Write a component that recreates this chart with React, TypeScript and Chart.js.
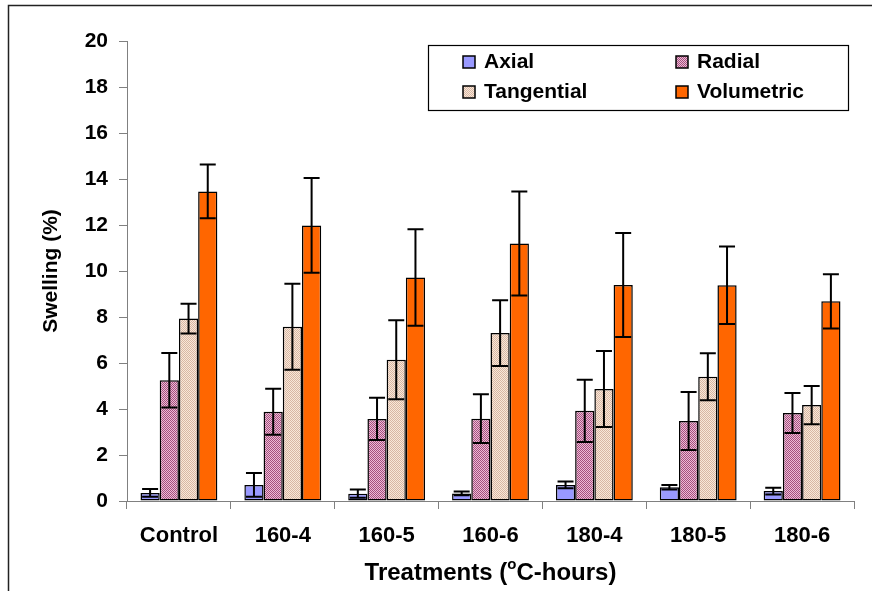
import { useEffect, useRef } from 'react';
import { Chart, registerables } from 'chart.js';

Chart.register(...registerables);

const categories = ['Control', '160-4', '160-5', '160-6', '180-4', '180-5', '180-6'];
const seriesLabels = ['Axial', 'Radial', 'Tangential', 'Volumetric'];
const axial = [0.35, 0.7, 0.32, 0.33, 0.7, 0.6, 0.43];
const axialErr = [0.17, 0.52, 0.18, 0.08, 0.15, 0.1, 0.15];
const radial = [5.25, 3.88, 3.57, 3.58, 3.92, 3.48, 3.83];
const radialErr = [1.18, 1.0, 0.92, 1.06, 1.35, 1.26, 0.87];
const tangential = [7.93, 7.58, 6.14, 7.3, 4.87, 5.4, 4.17];
const tangentialErr = [0.65, 1.87, 1.72, 1.43, 1.65, 1.02, 0.83];
const volumetric = [13.46, 11.98, 9.72, 11.2, 9.39, 9.38, 8.68];
const volumetricErr = [1.17, 2.06, 2.1, 2.26, 2.26, 1.68, 1.18];
const yMin = 0;
const yMax = 20;
const yStep = 2;

const FONT = "'Liberation Sans', Arial, sans-serif";

function makePattern(a: string, b: string): CanvasPattern | string {
  const c = document.createElement('canvas');
  c.width = 2;
  c.height = 2;
  const g = c.getContext('2d');
  if (!g) return a;
  g.fillStyle = b;
  g.fillRect(0, 0, 2, 2);
  g.fillStyle = a;
  g.fillRect(0, 0, 1, 1);
  g.fillRect(1, 1, 1, 1);
  const p = g.createPattern(c, 'repeat');
  return p || a;
}

export default function App() {
  const ref = useRef<HTMLCanvasElement | null>(null);

  useEffect(() => {
    document.body.style.margin = '0';
    const canvas = ref.current;
    if (!canvas) return;

    const radialFill = makePattern('#A4507E', '#EDBAD5');
    const tangFill = makePattern('#D8B6A4', '#F8E8D8');
    const fills: any[] = ['#9999FF', radialFill, tangFill, '#FF6600'];
    const values = [axial, radial, tangential, volumetric];
    const errs = [axialErr, radialErr, tangentialErr, volumetricErr];

    const errorBars = {
      id: 'errorBars',
      afterDatasetsDraw(chart: any) {
        const ctx = chart.ctx;
        const y = chart.scales.y;
        ctx.save();
        ctx.strokeStyle = '#000';
        ctx.lineWidth = 2;
        chart.data.datasets.forEach((ds: any, i: number) => {
          const meta = chart.getDatasetMeta(i);
          meta.data.forEach((bar: any, j: number) => {
            const v = ds.data[j];
            const e = ds.errors[j];
            const x = bar.x;
            const yt = y.getPixelForValue(v + e);
            const yb = y.getPixelForValue(Math.max(v - e, 0));
            const cap = 8;
            ctx.beginPath();
            ctx.moveTo(x, yt);
            ctx.lineTo(x, yb);
            ctx.moveTo(x - cap, yt);
            ctx.lineTo(x + cap, yt);
            ctx.moveTo(x - cap, yb);
            ctx.lineTo(x + cap, yb);
            ctx.stroke();
          });
        });
        ctx.restore();
      },
    };

    const decorations = {
      id: 'decorations',
      afterDraw(chart: any) {
        const ctx = chart.ctx;
        const area = chart.chartArea;
        ctx.save();
        // outer frame
        ctx.strokeStyle = '#222';
        ctx.lineWidth = 1.5;
        ctx.beginPath();
        ctx.moveTo(8.5, chart.height);
        ctx.lineTo(8.5, 5.5);
        ctx.lineTo(chart.width, 5.5);
        ctx.stroke();

        // legend
        const lx = 428, ly = 45, lw = 420, lh = 65;
        ctx.fillStyle = '#fff';
        ctx.fillRect(lx, ly, lw, lh);
        ctx.strokeStyle = '#000';
        ctx.lineWidth = 1.2;
        ctx.strokeRect(lx + 0.5, ly + 0.5, lw, lh);
        const cols = [35, 248];
        const rows = [17, 47];
        ctx.font = `bold 21px ${FONT}`;
        ctx.textBaseline = 'middle';
        ctx.textAlign = 'left';
        chart.data.datasets.forEach((ds: any, i: number) => {
          const cx = lx + cols[i % 2];
          const cy = ly + rows[Math.floor(i / 2)];
          ctx.fillStyle = ds.backgroundColor;
          ctx.fillRect(cx, cy - 6, 12, 12);
          ctx.strokeStyle = '#000';
          ctx.lineWidth = 1.5;
          ctx.strokeRect(cx, cy - 6, 12, 12);
          ctx.fillStyle = '#000';
          ctx.fillText(ds.label, cx + 21, cy);
        });

        // x-axis title with superscript
        const p1 = 'Treatments (';
        const sup = 'o';
        const p2 = 'C-hours)';
        const big = `bold 24px ${FONT}`;
        const small = `bold 15px ${FONT}`;
        ctx.font = big;
        const w1 = ctx.measureText(p1).width;
        const w3 = ctx.measureText(p2).width;
        ctx.font = small;
        const w2 = ctx.measureText(sup).width;
        const total = w1 + w2 + w3;
        const cx = (area.left + area.right) / 2;
        let x0 = cx - total / 2;
        const ty = 573;
        ctx.fillStyle = '#000';
        ctx.textAlign = 'left';
        ctx.textBaseline = 'middle';
        ctx.font = big;
        ctx.fillText(p1, x0, ty);
        x0 += w1;
        ctx.font = small;
        ctx.fillText(sup, x0, ty - 8);
        x0 += w2;
        ctx.font = big;
        ctx.fillText(p2, x0, ty);
        ctx.restore();
      },
    };

    const chart = new Chart(canvas, {
      type: 'bar',
      data: {
        labels: categories,
        datasets: seriesLabels.map((label, i) => ({
          label,
          data: values[i],
          errors: errs[i],
          backgroundColor: fills[i],
          borderColor: '#000',
          borderWidth: 1.5,
          borderSkipped: false,
          categoryPercentage: 0.74,
          barPercentage: 1.0,
        })) as any,
      },
      options: {
        responsive: false,
        animation: false,
        layout: { padding: { top: 41, right: 18, left: 0, bottom: 0 } },
        plugins: {
          legend: { display: false },
          tooltip: { enabled: false },
        },
        scales: {
          x: {
            grid: {
              display: true,
              drawOnChartArea: false,
              drawTicks: true,
              tickLength: 8,
              color: '#808080',
              offset: true,
            },
            border: { display: true, color: '#808080', width: 1 },
            ticks: {
              color: '#000',
              padding: 14,
              font: { family: FONT, size: 22, weight: 'bold' },
              maxRotation: 0,
            },
            afterFit(scale: any) {
              scale.height = 90;
            },
          },
          y: {
            min: yMin,
            max: yMax,
            grid: {
              display: true,
              drawOnChartArea: false,
              drawTicks: true,
              tickLength: 8,
              color: '#808080',
            },
            border: { display: true, color: '#808080', width: 1 },
            ticks: {
              stepSize: yStep,
              color: '#000',
              padding: 11,
              font: { family: FONT, size: 21, weight: 'bold' },
            },
            title: {
              display: true,
              text: 'Swelling (%)',
              color: '#000',
              font: { family: FONT, size: 21, weight: 'bold' },
              padding: { top: 39, bottom: 0 },
            },
            afterFit(scale: any) {
              scale.width = 127;
            },
          },
        },
      } as any,
      plugins: [errorBars, decorations],
    });

    return () => {
      chart.destroy();
    };
  }, []);

  return (
    <div style={{ width: 872, height: 591, position: 'relative', overflow: 'hidden' }}>
      <canvas ref={ref} width={872} height={591} style={{ display: 'block' }} />
    </div>
  );
}
